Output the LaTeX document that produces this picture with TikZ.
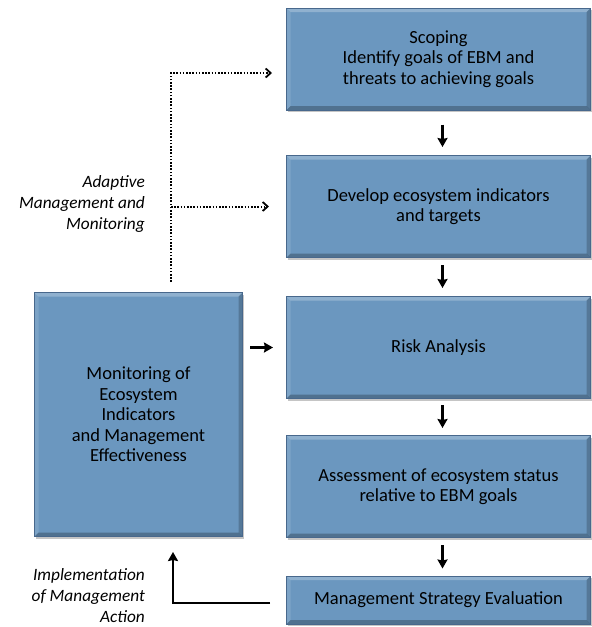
\documentclass[tikz,border=0pt]{standalone}
\usepackage{fontspec}
\setmainfont{Carlito}
\usetikzlibrary{arrows.meta,shadows,positioning}

\definecolor{boxblue}{RGB}{107,151,191}
\definecolor{boxedge}{RGB}{72,104,140}

\tikzset{
  stagebox/.style={draw=boxedge, line width=1pt, fill=boxblue, align=center,
    font=\fontsize{18.5}{20.5}\selectfont, inner sep=0pt,
    drop shadow={shadow xshift=1.5pt, shadow yshift=-2pt, opacity=0.45},
    path picture={
      \fill[white, opacity=0.25] (path picture bounding box.north west) -- (path picture bounding box.north east)
        -- ([shift={(-4pt,-4pt)}]path picture bounding box.north east) -- ([shift={(4pt,-4pt)}]path picture bounding box.north west) -- cycle;
      \fill[white, opacity=0.12] (path picture bounding box.north west) -- (path picture bounding box.south west)
        -- ([shift={(4pt,4pt)}]path picture bounding box.south west) -- ([shift={(4pt,-4pt)}]path picture bounding box.north west) -- cycle;
      \fill[black, opacity=0.2] (path picture bounding box.south east) -- (path picture bounding box.north east)
        -- ([shift={(-4pt,-4pt)}]path picture bounding box.north east) -- ([shift={(-4pt,4pt)}]path picture bounding box.south east) -- cycle;
      \fill[black, opacity=0.25] (path picture bounding box.south east) -- (path picture bounding box.south west)
        -- ([shift={(4pt,4pt)}]path picture bounding box.south west) -- ([shift={(-4pt,4pt)}]path picture bounding box.south east) -- cycle;
    }},
  steparrow/.style={line width=2.4pt, -{Stealth[length=9pt,width=10pt,inset=1pt]}},
  loopline/.style={line width=2pt, dash pattern=on 1.6pt off 1.6pt, -{Straight Barb[length=5pt,width=9pt,line width=1.8pt]}},
  sidelabel/.style={align=right, anchor=east, font=\fontsize{17.3}{21}\selectfont\itshape, inner sep=0pt}
}

\begin{document}
\begin{tikzpicture}[x=1pt,y=-1pt]
    \useasboundingbox[fill=white] (0,0) rectangle (592,627);

    % Stages
    \node[stagebox, minimum width=304pt, minimum height=102pt] (scope) at (438.5,59)
      {Scoping\\Identify goals of EBM and\\threats to achieving goals};
    \node[stagebox, minimum width=304pt, minimum height=102pt] (indic) at (438.5,206.5)
      {Develop ecosystem indicators\\and targets};
    \node[stagebox, minimum width=304pt, minimum height=102pt] (risk) at (438.5,347.5)
      {Risk Analysis};
    \node[stagebox, minimum width=304pt, minimum height=102pt] (assess) at (438.5,486.5)
      {Assessment of ecosystem status\\relative to EBM goals};
    \node[stagebox, minimum width=304pt, minimum height=48pt] (mse) at (438.5,600)
      {Management Strategy Evaluation};
    \node[stagebox, minimum width=208pt, minimum height=244pt] (monit) at (138.5,414.5)
      {Monitoring of\\Ecosystem\\Indicators\\and Management\\Effectiveness};

    % Arrows between stages
    \draw[steparrow, shorten <=14pt, shorten >=8pt] ([xshift=4pt]scope.south) -- ([xshift=4pt]indic.north);
    \draw[steparrow, shorten <=7pt, shorten >=8pt] ([xshift=4pt]indic.south) -- ([xshift=4pt]risk.north);
    \draw[steparrow, shorten <=6pt, shorten >=7pt] ([xshift=4pt]risk.south) -- ([xshift=4pt]assess.north);
    \draw[steparrow, shorten <=7pt, shorten >=7pt] ([xshift=4pt]assess.south) -- ([xshift=4pt]mse.north);
    \draw[steparrow, shorten <=7pt, shorten >=13pt] (monit.east |- risk.west) -- (risk.west);

    % Adaptive management loop
    \coordinate (fork) at (171,73);
    \draw[loopline, shorten <=10pt, shorten >=14pt] (monit.north -| fork) -- (fork) -- (fork -| scope.west);
    \draw[loopline, shorten >=17pt] (fork |- indic.west) -- (indic.west);

    % Implementation
    \coordinate (turn) at (173,603);
    \draw[steparrow, shorten <=16pt, shorten >=15pt]
      (mse.west |- turn) -- (turn) -- (turn |- monit.south);

    % Labels
    \node[sidelabel] (adapt) at (145,204) {Adaptive\\Management and\\Monitoring};
    \node[sidelabel] (impl) at (145,596) {Implementation\\of Management\\Action};
\end{tikzpicture}
\end{document}
